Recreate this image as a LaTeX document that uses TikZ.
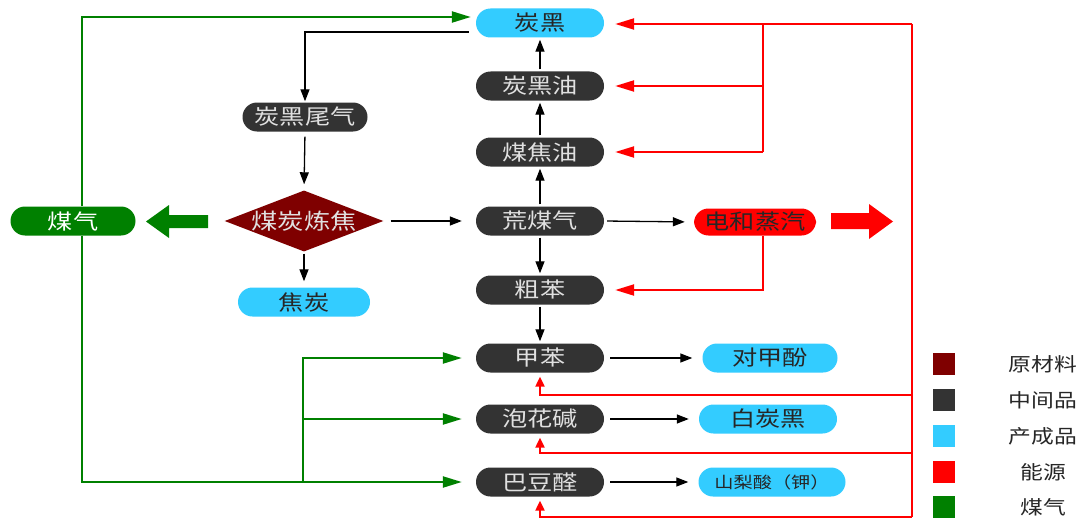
\documentclass[tikz,border=0pt]{standalone}
\usepackage{fontspec}
\setmainfont{Noto Sans CJK SC}[FakeStretch=1.2]
\usetikzlibrary{arrows.meta,shapes.geometric}
\definecolor{cdark}{HTML}{333333}
\definecolor{ccyan}{HTML}{33CCFF}
\definecolor{cmaroon}{HTML}{7F0000}
\definecolor{cred}{HTML}{FF0000}
\definecolor{cgreen}{HTML}{008000}
\begin{document}
\begin{tikzpicture}[x=1pt,y=-1pt,
  pill/.style={rectangle, rounded corners=14.5pt, minimum height=29pt, inner sep=0pt, font=\fontsize{21}{24}\selectfont},
  mid/.style={pill, fill=cdark, text=white!88!black, minimum width=128pt},
  prod/.style={pill, fill=ccyan, text=black!85},
  blk/.style={draw=black, line width=1.3pt, -{Triangle[length=12pt,width=9pt]}},
  redl/.style={draw=cred, line width=2.2pt},
  redarr/.style={redl, -{Triangle[length=19pt,width=11pt]}},
  redup/.style={redl, -{Triangle[length=10pt,width=9pt]}},
  grnl/.style={draw=cgreen, line width=2.2pt},
  grnarr/.style={grnl, -{Triangle[length=19pt,width=11pt]}},
  legsq/.style={rectangle, minimum size=22pt, inner sep=0pt},
  leglab/.style={font=\fontsize{19}{22}\selectfont, text=black!85},
]
\useasboundingbox[fill=white] (0,0) rectangle (1082,519);

% right column
\node[prod, minimum width=128pt] (tanhei) at (540,23) {炭黑};
\node[mid] (thy) at (540,86) {炭黑油};
\node[mid] (mjy) at (540,152) {煤焦油};
\node[mid] (hmq) at (540,221) {荒煤气};
\node[mid] (cb) at (540,290) {粗苯};
\node[mid] (jb) at (540,358) {甲苯};
\node[mid] (phj) at (540,419) {泡花碱};
\node[mid] (bdq) at (540,482) {巴豆醛};

% left parts
\node[mid, minimum width=125pt] (thwq) at (305,117) {炭黑尾气};
\node[diamond, fill=cmaroon, text=white!88!black, inner sep=0pt, aspect=2.6,
      font=\fontsize{22}{24}\selectfont] (lj) at (304,221) {煤炭炼焦};
\node[prod, minimum width=132pt] (jt) at (304,302) {焦炭};
\node[pill, fill=cgreen, text=white, minimum width=125pt] (mq) at (73,221) {煤气};

% right products
\node[pill, fill=cred, text=black!85, minimum width=122pt, minimum height=27pt] (dhzq) at (755,222) {电和蒸汽};
\node[prod, minimum width=135pt] (djf) at (770,358) {对甲酚};
\node[prod, minimum width=138pt] (btj) at (768,419) {白炭黑};
\node[prod, minimum width=147pt, font=\fontsize{16}{20}\selectfont] (slz) at (772,482) {山梨酸（钾）};

% black flow arrows
\draw[blk, shorten <=2pt, shorten >=2pt] (hmq.north) -- (mjy.south);
\draw[blk, shorten <=2pt, shorten >=2pt] (mjy.north) -- (thy.south);
\draw[blk, shorten <=2pt, shorten >=2pt] (thy.north) -- (tanhei.south);
\draw[blk, shorten <=2pt, shorten >=2pt] (hmq.south) -- (cb.north);
\draw[blk, shorten <=2pt, shorten >=2pt] (cb.south) -- (jb.north);
\draw[blk, shorten <=7pt, shorten >=1pt] ([yshift=-9pt]tanhei.west) -| (thwq.north);
\draw[blk, shorten <=5pt, shorten >=6pt] (thwq.south) -- (lj.north);
\draw[blk, shorten <=2pt, shorten >=6pt] (lj.south) -- (jt.north);
\draw[blk, shorten <=7pt, shorten >=14pt] (lj.east) -- (hmq.west);
\draw[blk, shorten <=3pt, shorten >=9pt] (hmq.east) -- (dhzq.west);
\draw[blk, shorten <=6pt, shorten >=10pt] (jb.east) -- (djf.west);
\draw[blk, shorten <=6pt, shorten >=10pt] (phj.east) -- (btj.west);
\draw[blk, shorten <=6pt, shorten >=10pt] (bdq.east) -- (slz.west);

% green gas lines
\coordinate (gbr) at (303,482);
\draw[grnarr, shorten >=5pt] ([xshift=9pt]mq.north) |- ([yshift=6pt]tanhei.west);
\draw[grnarr, shorten >=14pt] ([xshift=9pt]mq.south) |- (bdq.west);
\draw[grnarr, shorten >=14pt] (gbr) |- (jb.west);
\draw[grnarr, shorten >=14pt] (gbr |- phj.west) -- (phj.west);

% red energy lines
\coordinate (rtop) at (912,24);
\coordinate (rbr) at (763,24);
\coordinate (r1) at (912,395);
\coordinate (r2) at (912,453);
\coordinate (r3) at (912,517);
\draw[redl] (rtop) -- (r3);
\draw[redarr, shorten >=11pt] (rtop) -- (tanhei.east |- rtop);
\draw[redl] (rbr) -- (763,152);
\draw[redarr, shorten >=11pt] (rbr |- thy.east) -- (thy.east);
\draw[redarr, shorten >=11pt] (rbr |- mjy.east) -- (mjy.east);
\draw[redarr, shorten >=11pt] ([xshift=8pt]dhzq.south) |- (cb.east);
\draw[redup, shorten >=4pt] (r1) -| (jb.south);
\draw[redup, shorten >=4pt] (r2) -| (phj.south);
\draw[redup, shorten >=4pt] (r3) -| (bdq.south);

% thick arrows
\fill[cgreen] (208,215) -- (169,215) -- (169,205) -- (146,221.5) -- (169,238) -- (169,228) -- (208,228) -- cycle;
\fill[cred] (831,213) -- (869,213) -- (869,204) -- (893,221.5) -- (869,239) -- (869,229) -- (831,229) -- cycle;

% legend
\node[legsq, fill=cmaroon] (l1) at (944,364) {};
\node[legsq, fill=cdark] (l2) at (944,400) {};
\node[legsq, fill=ccyan] (l3) at (944,436) {};
\node[legsq, fill=cred] (l4) at (944,472) {};
\node[legsq, fill=cgreen] (l5) at (944,507) {};
\node[leglab] (t1) at (1043,364) {原材料};
\node[leglab] (t2) at (1043,400) {中间品};
\node[leglab] (t3) at (1043,436) {产成品};
\node[leglab] (t4) at (1043,472) {能源};
\node[leglab] (t5) at (1043,507) {煤气};
\end{tikzpicture}
\end{document}
